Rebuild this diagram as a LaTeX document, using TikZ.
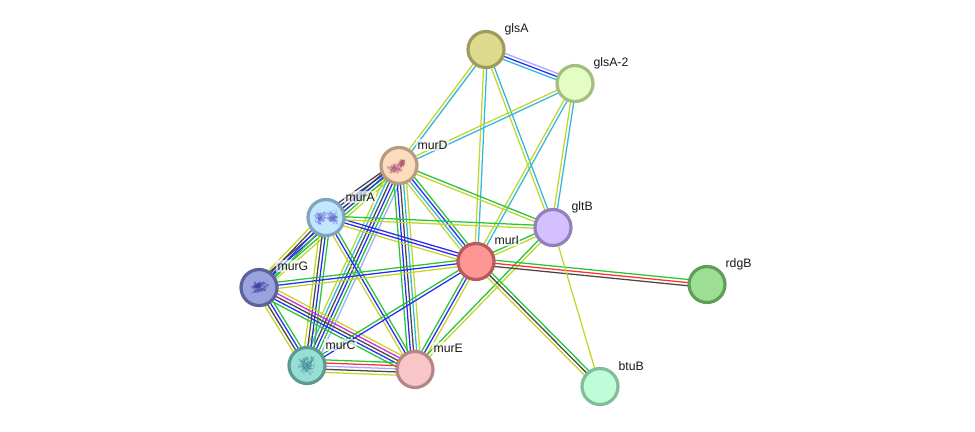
\documentclass[tikz,border=0pt]{standalone}
\usepackage{fontspec}
\setmainfont{Liberation Sans}
\usetikzlibrary{calc,backgrounds}
\definecolor{tm}{HTML}{C4D52E}
\definecolor{db}{HTML}{2FB9DC}
\definecolor{ex}{HTML}{D828D8}
\definecolor{co}{HTML}{474747}
\definecolor{ne}{HTML}{25C53A}
\definecolor{fu}{HTML}{FF3030}
\definecolor{oc}{HTML}{2A2AF5}
\definecolor{ho}{HTML}{A8A8FF}
% Rim and body colours of each protein
\definecolor{rglsA}{HTML}{9E9B5C}\definecolor{bglsA}{HTML}{DFDB8E}
\definecolor{rglsB}{HTML}{A3BE80}\definecolor{bglsB}{HTML}{E3FDC4}
\definecolor{rmurD}{HTML}{B89B82}\definecolor{bmurD}{HTML}{FDDCBE}
\definecolor{rmurA}{HTML}{7EA5BC}\definecolor{bmurA}{HTML}{C1E7FF}
\definecolor{rmurG}{HTML}{5B6498}\definecolor{bmurG}{HTML}{9AA3DE}
\definecolor{rmurC}{HTML}{5C9A90}\definecolor{bmurC}{HTML}{97DFD3}
\definecolor{rmurE}{HTML}{B68686}\definecolor{bmurE}{HTML}{F8C6C6}
\definecolor{rmurI}{HTML}{B85A5A}\definecolor{bmurI}{HTML}{FF9696}
\definecolor{rgltB}{HTML}{9580BE}\definecolor{bgltB}{HTML}{D4BFFF}
\definecolor{rrdgB}{HTML}{5F9E58}\definecolor{brdgB}{HTML}{9BDE94}
\definecolor{rbtuB}{HTML}{7FBE98}\definecolor{bbtuB}{HTML}{BFFDD8}
\definecolor{foldD}{HTML}{A0406A}
\definecolor{foldA}{HTML}{5A5AC8}
\definecolor{foldG}{HTML}{2E2A90}
\definecolor{foldC}{HTML}{2E6E86}
\tikzset{
  x=0.75pt,y=-0.75pt,
  protein/.style={circle,draw=r#1,fill=b#1,line width=2.4pt,minimum size=27pt,inner sep=0pt},
  tag/.style={font=\fontsize{9.2pt}{10pt}\selectfont,text=black!90,fill=white,fill opacity=0.65,text opacity=1,inner sep=1pt,anchor=west},
  strand/.style={line width=0.95pt},
}
% A bundle of parallel strands between two proteins: \bundle{a}{b}{colour,colour,...}
\newcommand{\bundle}[3]{%
  \foreach \c [count=\n] in {#3}{\xdef\bundlesize{\n}}%
  \foreach \c [count=\n] in {#3}{%
    \pgfmathsetmacro{\off}{(\n-(\bundlesize+1)/2)*2.35}%
    \draw[strand,color=\c] ($(#1)!\off pt!90:(#2)$) -- ($(#2)!\off pt!-90:(#1)$);
  }%
}
% A tangled backbone drawn inside a protein node:
% \fold{node}{colour}{seed}{half-width}{half-height}{dx}{dy}
\newcommand{\fold}[7]{%
  \pgfmathsetseed{#3}%
  \foreach \k in {1,2,3}{%
    \draw[color=#2,line width=0.15pt,line join=round,opacity=0.5]
      ($(#1)+(#6,#7)+(rand*#4,rand*#5)$)
      \foreach \j in {1,...,26}{ .. controls +(rand*2.5,rand*2.5) and +(rand*2.5,rand*2.5) .. ($(#1)+(#6,#7)+({(rand+rand)*0.6*#4},{(rand+rand)*0.6*#5})$) };
  }%
}
\begin{document}
\begin{tikzpicture}
\useasboundingbox (0,0) rectangle (975,432);

\node[protein=glsA] (glsA) at (486,49.5) {};
\node[protein=glsB] (glsB) at (575,83.5) {};
\node[protein=murD] (murD) at (399,165.5) {};
\node[protein=murA] (murA) at (326,217.5) {};
\node[protein=murG] (murG) at (259,287.5) {};
\node[protein=murC] (murC) at (307,365.5) {};
\node[protein=murE] (murE) at (415,369.5) {};
\node[protein=murI] (murI) at (476,261.5) {};
\node[protein=gltB] (gltB) at (553,227.5) {};
\node[protein=rdgB] (rdgB) at (707,284.5) {};
\node[protein=btuB] (btuB) at (600,386.5) {};

\fold{murD}{foldD}{11}{8}{5}{-4}{3}
\fold{murD}{foldD}{12}{4}{4}{3}{-2}
\fold{murA}{foldA}{23}{6}{7}{-6}{0}
\fold{murA}{foldA}{24}{6}{7}{6}{0}
\fold{murG}{foldG}{37}{10}{6}{0}{0}
\fold{murC}{foldC}{51}{9}{9}{0}{0}

\node[tag] (lglsA) at (503,29) {glsA};
\node[tag] (lglsB) at (592,63) {glsA-2};
\node[tag] (lmurD) at (416,145) {murD};
\node[tag] (lmurA) at (344,197) {murA};
\node[tag] (lmurG) at (276,266) {murG};
\node[tag] (lmurC) at (324,345) {murC};
\node[tag] (lmurE) at (432,348) {murE};
\node[tag] (lmurI) at (493,240) {murI};
\node[tag] (lgltB) at (570,207) {gltB};
\node[tag] (lrdgB) at (724,264) {rdgB};
\node[tag] (lbtuB) at (617,366) {btuB};

\begin{scope}[on background layer]
\fill[white] (0,0) rectangle (975,432);
\bundle{glsA}{glsB}{db,oc,ho}
\bundle{glsA}{murD}{tm,db}
\bundle{glsA}{murI}{tm,db}
\bundle{glsA}{gltB}{tm,db}
\bundle{glsB}{murD}{tm,db}
\bundle{glsB}{murI}{tm,db}
\bundle{glsB}{gltB}{tm,db}
\bundle{murD}{murA}{co,oc,ne,tm}
\bundle{murD}{murG}{co,oc,ne,tm}
\bundle{murD}{murC}{tm,db,co,oc,ne,ho}
\bundle{murD}{murE}{ne,oc,co,db,tm}
\bundle{murD}{murI}{tm,db,oc,ne}
\bundle{murD}{gltB}{tm,ne}
\bundle{murA}{murG}{tm,co,oc,ne}
\bundle{murA}{murC}{tm,co,oc,ne}
\bundle{murA}{murE}{tm,oc,ne}
\bundle{murA}{murI}{tm,oc,oc}
\bundle{murA}{gltB}{tm,ne}
\bundle{murG}{murI}{tm,oc,ne}
\bundle{murG}{murC}{tm,co,oc,ne}
\bundle{murG}{murE}{ne,oc,co,ex,tm}
\bundle{murC}{murE}{tm,co,ho,fu,ne}
\bundle{murC}{murI}{oc,ne}
\bundle{murE}{murI}{tm,oc,ne}
\bundle{murE}{gltB}{tm,ne}
\bundle{murI}{gltB}{tm,ne}
\bundle{murI}{rdgB}{co,fu,ne}
\bundle{murI}{btuB}{tm,co,ne}
\bundle{gltB}{btuB}{tm}
\end{scope}
\end{tikzpicture}
\end{document}
